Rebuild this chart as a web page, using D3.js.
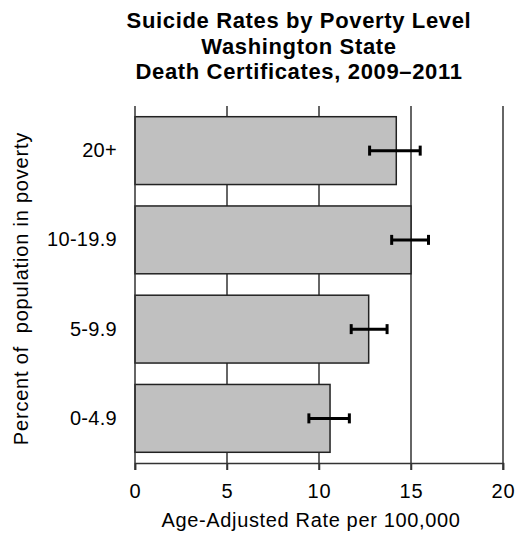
<!DOCTYPE html>
<html><head><meta charset="utf-8">
<script src="https://cdn.jsdelivr.net/npm/d3@7"></script>
<style>body{margin:0;background:#fff}svg{display:block}text{font-family:"Liberation Sans",Arial,sans-serif}</style>
</head><body><svg id="c" width="515" height="535"></svg>
<script>
const categories = ["20+", "10-19.9", "5-9.9", "0-4.9"];
const rates = [14.2, 15.0, 12.7, 10.6];
const ciLow = [12.75, 13.95, 11.75, 9.45];
const ciHigh = [15.5, 15.95, 13.7, 11.65];
const xTicks = [0, 5, 10, 15, 20];
const titleLines = ["Suicide Rates by Poverty Level", "Washington State", "Death Certificates, 2009\u20132011"];

const svg = d3.select("#c");
const m = {left:135, right:503, top:106, bottom:463};
const x = d3.scaleLinear().domain([0,20]).range([m.left, m.right]);
const y = d3.scaleBand().domain(categories).range([m.top, m.bottom]).paddingInner(0.24).paddingOuter(0.12);
const lineCol = "#333";

// gridlines
svg.append("g").selectAll("line").data(xTicks.slice(1)).join("line")
  .attr("x1", d=>x(d)).attr("x2", d=>x(d)).attr("y1", m.top).attr("y2", m.bottom+7)
  .attr("stroke", lineCol).attr("stroke-width", 1.5);

// bars
svg.append("g").selectAll("rect").data(categories).join("rect")
  .attr("x", x(0)).attr("y", d=>y(d)).attr("width", (d,i)=>x(rates[i])-x(0)).attr("height", y.bandwidth())
  .attr("fill", "#c0c0c0").attr("stroke", "#222").attr("stroke-width", 1.5);

// error bars
const eb = svg.append("g").attr("stroke", "#000").attr("stroke-width", 3);
categories.forEach((c,i)=>{
  const cy = y(c) + y.bandwidth()/2;
  eb.append("line").attr("x1", x(ciLow[i])).attr("x2", x(ciHigh[i])).attr("y1", cy).attr("y2", cy);
  [ciLow[i], ciHigh[i]].forEach(v=>eb.append("line").attr("x1", x(v)).attr("x2", x(v)).attr("y1", cy-5).attr("y2", cy+5));
});

// axes
const xa = svg.append("g").attr("transform", `translate(0,${m.bottom})`)
  .call(d3.axisBottom(x).tickValues(xTicks).tickSize(7).tickPadding(14));
xa.select(".domain").attr("stroke", lineCol).attr("stroke-width", 1.5);
xa.selectAll(".tick line").attr("stroke", lineCol).attr("stroke-width", 1.5);
xa.selectAll("text").attr("font-size", 20).attr("letter-spacing", 0.8).attr("fill", "#000");

const ya = svg.append("g").attr("transform", `translate(${m.left},0)`)
  .call(d3.axisLeft(y).tickSize(0).tickPadding(18));
ya.select(".domain").attr("d", `M0,${m.top}V${m.bottom+7}`).attr("stroke", lineCol).attr("stroke-width", 1.5);
ya.selectAll("text").attr("font-size", 20).attr("letter-spacing", 0.3).attr("fill", "#000");

// titles
svg.append("g").selectAll("text").data(titleLines).join("text")
  .attr("x", 299).attr("y", (d,i)=>28 + i*25.5).attr("text-anchor", "middle")
  .attr("font-size", 22).attr("letter-spacing", 0.65).attr("font-weight", "bold").attr("fill", "#000").text(d=>d);

svg.append("text").attr("x", 311).attr("y", 527).attr("text-anchor", "middle")
  .attr("font-size", 20).attr("letter-spacing", 0.65).attr("fill", "#000").text("Age-Adjusted Rate per 100,000");

svg.append("text").attr("transform", "translate(27.5,288.5) rotate(-90)").attr("text-anchor", "middle")
  .attr("font-size", 20).attr("letter-spacing", 0.8).attr("fill", "#000").attr("xml:space","preserve").text("Percent of  population in poverty");
</script></body></html>
